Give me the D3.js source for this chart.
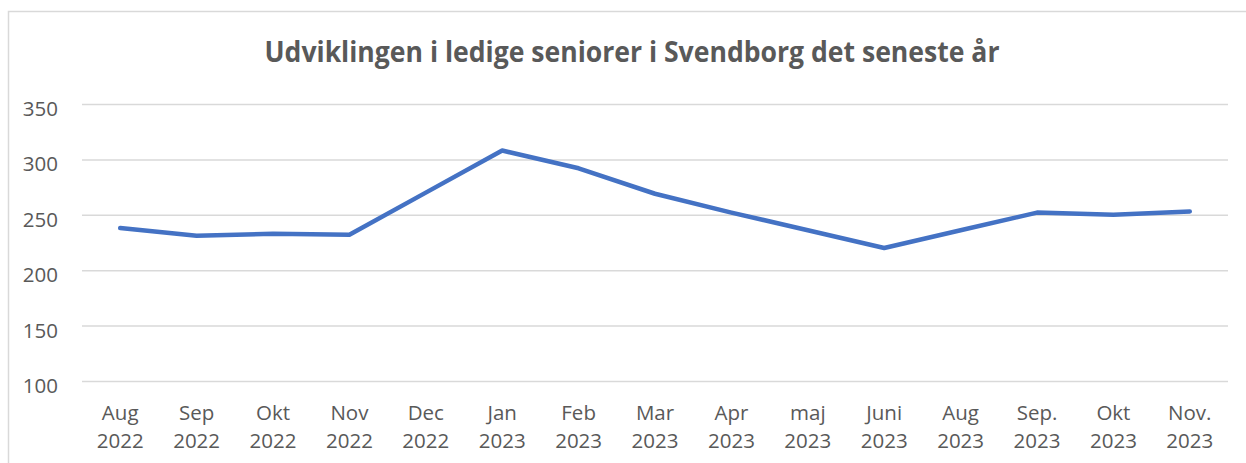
<!DOCTYPE html>
<html>
<head>
<meta charset="utf-8">
<script src="https://cdn.jsdelivr.net/npm/d3@7"></script>
<style>
  html, body { margin: 0; padding: 0; background: #fff; }
  svg { display: block; }
</style>
</head>
<body>
<svg id="chart" width="1246" height="463"></svg>
<script>
const titleText = "Udviklingen i ledige seniorer i Svendborg det seneste år";
const categories = ["Aug 2022", "Sep 2022", "Okt 2022", "Nov 2022", "Dec 2022", "Jan 2023", "Feb 2023",
  "Mar 2023", "Apr 2023", "maj 2023", "Juni 2023", "Aug 2023", "Sep. 2023", "Okt 2023", "Nov. 2023"];
const values = [238, 231, 233, 232, 270, 308, 292, 269, 252, 236, 220, 236, 252, 250, 253];
const yTicks = [100, 150, 200, 250, 300, 350];

const W = 1246, H = 463;
const svg = d3.select("#chart");
const font = "'Open Sans', 'DejaVu Sans', sans-serif";
const textColor = "#595959";

// chart border
svg.append("rect")
  .attr("x", 8.5).attr("y", 11.5)
  .attr("width", W + 10).attr("height", H + 10)
  .attr("fill", "#fff").attr("stroke", "#d9d9d9").attr("stroke-width", 1.5);

// title
svg.append("text")
  .attr("x", 632).attr("y", 62)
  .attr("text-anchor", "middle")
  .attr("font-family", font).attr("font-weight", "bold")
  .attr("font-size", 28)
  .attr("fill", textColor)
  .attr("textLength", 735).attr("lengthAdjust", "spacingAndGlyphs")
  .text(titleText);

const x = d3.scaleBand().domain(categories).range([82, 1228]);
const y = d3.scaleLinear().domain([100, 350]).range([381, 104]);

// gridlines + y labels
const yAxis = svg.append("g")
  .attr("transform", "translate(82,0)")
  .call(d3.axisLeft(y).tickValues(yTicks).tickSize(-(1228 - 82)).tickPadding(24).tickFormat(d3.format("d")));
yAxis.select(".domain").remove();
yAxis.selectAll(".tick line").attr("stroke", "#d9d9d9").attr("stroke-width", 1.5);
yAxis.selectAll(".tick text")
  .attr("font-family", font).attr("font-size", 20.5)
  .attr("fill", textColor)
  .attr("dy", null).attr("dominant-baseline", "auto")
  .attr("y", 11.5);

// x labels
const xAxis = svg.append("g")
  .attr("transform", "translate(0,381)")
  .call(d3.axisBottom(x).tickSize(0).tickPadding(0));
xAxis.select(".domain").remove();
xAxis.selectAll(".tick text").each(function(d) {
  const t = d3.select(this);
  const parts = d.split(" ");
  t.text(null).attr("y", 0).attr("dy", null)
    .attr("font-family", font).attr("font-size", 20.5).attr("fill", textColor);
  t.append("tspan").attr("x", 0).attr("y", 39).text(parts[0]);
  t.append("tspan").attr("x", 0).attr("y", 67).text(parts[1]);
});

// line
const line = d3.line()
  .x((d, i) => x(categories[i]) + x.bandwidth() / 2)
  .y(d => y(d));
svg.append("path")
  .datum(values)
  .attr("d", line)
  .attr("fill", "none")
  .attr("stroke", "#4472C4")
  .attr("stroke-width", 4.5)
  .attr("stroke-linecap", "round")
  .attr("stroke-linejoin", "round");
</script>
</body>
</html>
